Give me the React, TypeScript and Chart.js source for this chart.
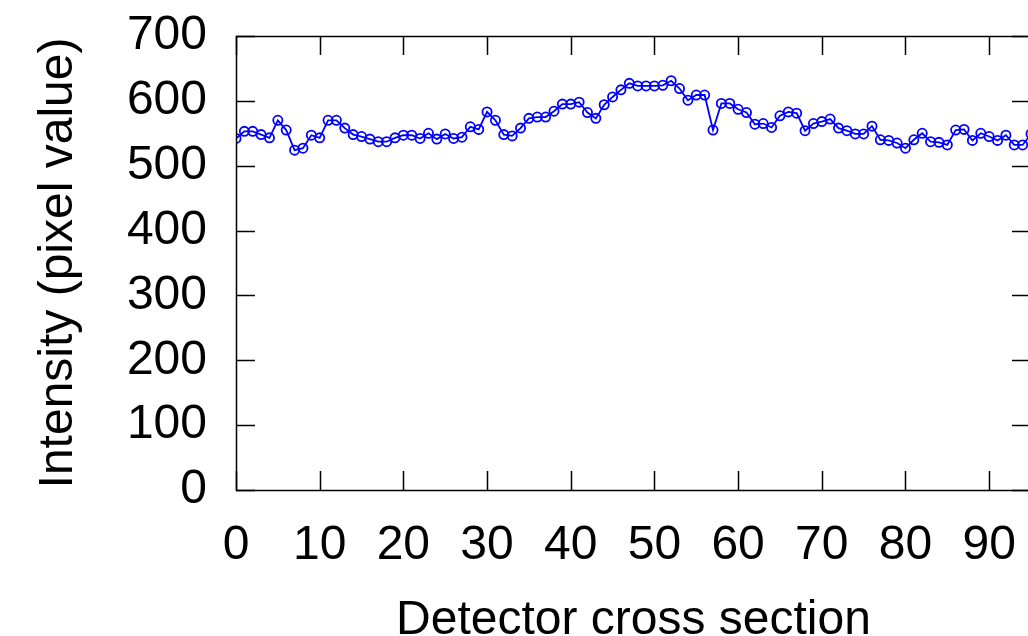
import React, { useEffect, useRef } from "react";
import { Chart, registerables } from "chart.js";

Chart.register(...registerables);

// Detector cross section index 0..95, intensity (pixel value)
const intensity = [
  542, 553, 553, 548, 543, 570, 555, 524, 527, 547,
  543, 570, 570, 558, 548, 545, 541, 537, 537, 543,
  547, 547, 542, 550, 541, 549, 542, 544, 560, 556,
  583, 570, 548, 546, 558, 573, 575, 575, 584, 595,
  595, 598, 582, 573, 594, 606, 617, 627, 623, 623,
  623, 624, 631, 619, 601, 609, 609, 555, 596, 596,
  587, 582, 564, 565, 559, 577, 583, 581, 554, 565,
  568, 572, 558, 554, 549, 549, 561, 540, 539, 535,
  527, 540, 550, 537, 536, 532, 555, 556, 539, 550,
  545, 539, 547, 532, 532, 549,
];

const xTickValues = [0, 10, 20, 30, 40, 50, 60, 70, 80, 90];
const yTickValues = [0, 100, 200, 300, 400, 500, 600, 700];

const xTitle = "Detector cross section";
const yTitle = "Intensity (pixel value)";

const FONT = "'Liberation Sans', Arial, Helvetica, sans-serif";
const TICK_LEN = 19;

const framePlugin = {
  id: "gnuplotFrame",
  afterDraw(chart: any) {
    const { ctx, chartArea } = chart;
    const { left, right, top, bottom } = chartArea;
    const xs = chart.scales.x;
    const ys = chart.scales.y;
    ctx.save();
    ctx.strokeStyle = "#000";
    ctx.lineWidth = 1.5;
    ctx.beginPath();
    for (const v of xTickValues) {
      const px = Math.round(xs.getPixelForValue(v)) + 0.5;
      ctx.moveTo(px, bottom);
      ctx.lineTo(px, bottom - TICK_LEN);
      ctx.moveTo(px, top);
      ctx.lineTo(px, top + TICK_LEN);
    }
    for (const v of yTickValues) {
      const py = Math.round(ys.getPixelForValue(v)) + 0.5;
      ctx.moveTo(left, py);
      ctx.lineTo(left + TICK_LEN, py);
      ctx.moveTo(right, py);
      ctx.lineTo(right - TICK_LEN, py);
    }
    ctx.stroke();
    ctx.strokeRect(left + 0.5, top + 0.5, right - left, bottom - top);
    ctx.restore();
  },
};

export default function App() {
  const canvasRef = useRef<HTMLCanvasElement | null>(null);

  useEffect(() => {
    if (!canvasRef.current) return;
    const chart = new Chart(canvasRef.current, {
      type: "line",
      data: {
        datasets: [
          {
            data: intensity.map((v, i) => ({ x: i, y: v })),
            borderColor: "rgb(0,0,255)",
            borderWidth: 1.8,
            pointRadius: 4.6,
            pointBorderWidth: 1.8,
            pointBorderColor: "rgb(0,0,255)",
            pointBackgroundColor: "rgba(255,255,255,0)",
            tension: 0,
            fill: false,
          },
        ],
      },
      options: {
        responsive: false,
        animation: false,
        devicePixelRatio: 1,
        layout: { padding: { top: 36, right: 19, left: 0, bottom: 0 } },
        plugins: {
          legend: { display: false },
          tooltip: { enabled: false },
        },
        scales: {
          x: {
            type: "linear",
            min: 0,
            max: 95,
            afterBuildTicks: (scale: any) => {
              scale.ticks = xTickValues.map((v) => ({ value: v }));
            },
            afterFit: (scale: any) => {
              scale.height = 146;
              scale.paddingLeft = 0;
              scale.paddingRight = 0;
            },
            grid: { display: false, drawTicks: false },
            border: { display: false },
            ticks: {
              autoSkip: false,
              maxRotation: 0,
              minRotation: 0,
              padding: 27,
              color: "#000",
              font: { family: FONT, size: 48 },
            },
            title: {
              display: true,
              text: xTitle,
              color: "#000",
              font: { family: FONT, size: 48, lineHeight: 0.63 },
              padding: { top: 0, bottom: 0 },
            },
          },
          y: {
            type: "linear",
            min: 0,
            max: 700,
            afterBuildTicks: (scale: any) => {
              scale.ticks = yTickValues.map((v) => ({ value: v }));
            },
            afterFit: (scale: any) => {
              scale.width = 236;
              scale.paddingTop = 0;
              scale.paddingBottom = 0;
            },
            grid: { display: false, drawTicks: false },
            border: { display: false },
            ticks: {
              padding: 29,
              color: "#000",
              font: { family: FONT, size: 48 },
            },
            title: {
              display: true,
              text: yTitle,
              color: "#000",
              font: { family: FONT, size: 48, lineHeight: 1.2 },
              padding: { top: 30, bottom: 0 },
            },
          },
        },
      },
      plugins: [framePlugin],
    });
    return () => chart.destroy();
  }, []);

  return (
    <div
      style={{
        position: "fixed",
        left: 0,
        top: 0,
        width: 1028,
        height: 636,
        overflow: "hidden",
        background: "#fff",
      }}
    >
      <canvas ref={canvasRef} width={1050} height={636} style={{ display: "block" }} />
    </div>
  );
}
